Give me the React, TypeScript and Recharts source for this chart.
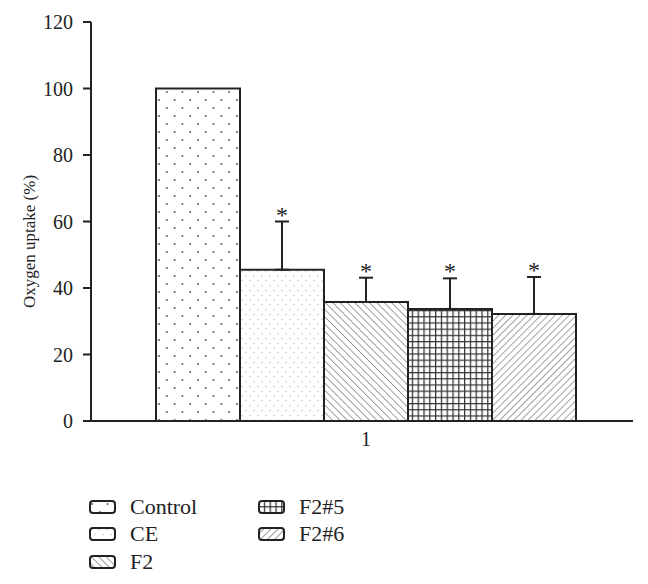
import React from 'react';
import { BarChart, Bar, XAxis, YAxis, ErrorBar, LabelList, Legend } from 'recharts';

const categories = ['1'];
const seriesNames = ['Control', 'CE', 'F2', 'F2#5', 'F2#6'];
const seriesKeys = ['control', 'ce', 'f2', 'f2n5', 'f2n6'];
const means = [100, 45.5, 35.8, 33.7, 32.2];
const upperErrors = [0, 14.5, 7.3, 9.2, 11.1];
const starred = [false, true, true, true, true];
const yTicks = [0, 20, 40, 60, 80, 100, 120];

const patternIds = ['pat-dots', 'pat-fine', 'pat-back', 'pat-grid', 'pat-fwd'];
const INK = '#222';

const data = categories.map((name) => {
  const row: Record<string, any> = { name };
  seriesKeys.forEach((k, i) => {
    row[k] = means[i];
    row[k + 'Err'] = [0, upperErrors[i]];
  });
  return row;
});

const renderYLabel = (props: any) => {
  const vb = props.viewBox;
  const cx = vb.x + 29;
  const cy = vb.y + vb.height / 2 + 20;
  return (
    <text
      x={cx}
      y={cy}
      textAnchor="middle"
      dominantBaseline="central"
      fontSize={17}
      fill={INK}
      transform={`rotate(-90, ${cx}, ${cy})`}
    >
      Oxygen uptake (%)
    </text>
  );
};

// asterisk sits just above the error cap
const renderStar = (i: number) => (p: any) => {
  const box = p.viewBox || p;
  const { x, y, width, height } = box;
  const capY = y - (upperErrors[i] * height) / means[i];
  return (
    <text x={x + width / 2} y={capY + 1} textAnchor="middle" fontSize={24} fill={INK}>
      *
    </text>
  );
};

const renderEdgeTick = () => null;

const renderLegend = (props: any) => {
  const items = [...(props.payload || [])].sort(
    (a: any, b: any) => seriesNames.indexOf(a.value) - seriesNames.indexOf(b.value)
  );
  return (
    <div
      style={{
        display: 'grid',
        gridTemplateRows: 'repeat(3, 27.5px)',
        gridTemplateColumns: '169px 169px',
        gridAutoFlow: 'column',
      }}
    >
      {items.map((it: any) => (
        <div key={it.value} style={{ display: 'flex', alignItems: 'center' }}>
          <svg width={27} height={14} style={{ marginRight: 14, display: 'block' }}>
            <rect x={1} y={1} width={25} height={12} rx={3} fill={it.color} stroke={INK} strokeWidth={2} />
          </svg>
          <span style={{ fontSize: 22, color: INK, lineHeight: '22px' }}>{it.value}</span>
        </div>
      ))}
    </div>
  );
};

export default function App() {
  return (
    <div style={{ position: 'absolute', left: 0, top: 0, fontFamily: '"Liberation Serif", serif' }}>
      <BarChart
        width={648}
        height={584}
        data={data}
        margin={{ top: 22, right: 15, bottom: 133, left: 0 }}
        barGap={0}
        barCategoryGap={57}
      >
        <defs>
          <pattern id="pat-dots" width="15.6" height="16" patternUnits="userSpaceOnUse">
            <rect width="15.6" height="16" fill="#fff" />
            <circle cx="3" cy="4" r="0.9" fill="#444" />
            <circle cx="10.8" cy="12" r="0.9" fill="#444" />
          </pattern>
          <pattern id="pat-fine" width="8" height="9.6" patternUnits="userSpaceOnUse">
            <rect width="8" height="9.6" fill="#fff" />
            <rect x="1.5" y="2" width="1" height="1" fill="#999" />
            <rect x="5.5" y="6.8" width="1" height="1" fill="#999" />
          </pattern>
          <pattern id="pat-back" width="5.2" height="5.2" patternUnits="userSpaceOnUse" patternTransform="rotate(-45)">
            <rect width="5.2" height="5.2" fill="#fff" />
            <line x1="0" y1="0" x2="0" y2="5.2" stroke="#555" strokeWidth="1.1" />
          </pattern>
          <pattern id="pat-grid" width="5.8" height="6.2" patternUnits="userSpaceOnUse">
            <rect width="5.8" height="6.2" fill="#fff" />
            <line x1="0.6" y1="0" x2="0.6" y2="6.2" stroke="#333" strokeWidth="1.3" />
            <line x1="0" y1="0.6" x2="5.8" y2="0.6" stroke="#333" strokeWidth="1.2" />
          </pattern>
          <pattern id="pat-fwd" width="5" height="5" patternUnits="userSpaceOnUse" patternTransform="rotate(45)">
            <rect width="5" height="5" fill="#fff" />
            <line x1="0" y1="0" x2="0" y2="5" stroke="#555" strokeWidth="1.1" />
          </pattern>
        </defs>

        {/* frame axis: only the end ticks of the x axis */}
        <XAxis
          xAxisId={0}
          type="number"
          domain={[0, 1]}
          ticks={[0, 1]}
          allowDataOverflow
          interval={0}
          height={0}
          tick={renderEdgeTick}
          axisLine={false}
          tickLine={{ stroke: INK, strokeWidth: 2 }}
          tickSize={9}
        />
        <XAxis
          xAxisId="cat"
          dataKey="name"
          height={30}
          padding={{ left: 8, right: 0 }}
          axisLine={{ stroke: INK, strokeWidth: 2 }}
          tickLine={false}
          tickSize={8}
          tickMargin={3}
          tick={{ fontSize: 20, fill: INK }}
        />
        <YAxis
          domain={[0, 120]}
          ticks={yTicks}
          interval={0}
          width={91}
          allowDataOverflow
          tickSize={8}
          tickMargin={10}
          axisLine={{ stroke: INK, strokeWidth: 2 }}
          tickLine={{ stroke: INK, strokeWidth: 2 }}
          tick={{ fontSize: 20, fill: INK }}
          label={renderYLabel}
        />
        <Legend
          layout="horizontal"
          verticalAlign="middle"
          align="center"
          wrapperStyle={{ left: 89, top: 493, width: 360 }}
          content={renderLegend}
        />
        {seriesKeys.map((k, i) => (
          <Bar
            key={k}
            xAxisId="cat"
            dataKey={k}
            name={seriesNames[i]}
            fill={`url(#${patternIds[i]})`}
            stroke={INK}
            strokeWidth={2}
            isAnimationActive={false}
          >
            {upperErrors[i] > 0 && (
              <ErrorBar dataKey={k + 'Err'} direction="y" width={7} stroke={INK} strokeWidth={2} />
            )}
            {starred[i] && <LabelList dataKey={k} content={renderStar(i)} />}
          </Bar>
        ))}
      </BarChart>
    </div>
  );
}
